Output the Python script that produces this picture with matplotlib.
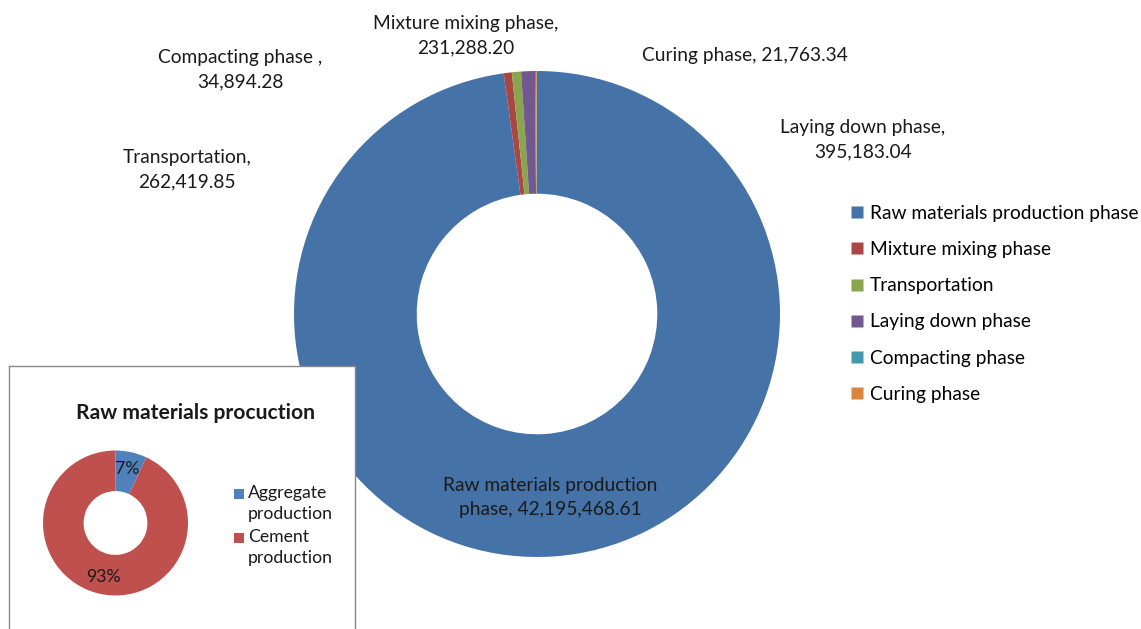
import matplotlib
matplotlib.use("Agg")
import matplotlib.pyplot as plt
from matplotlib.lines import Line2D
from matplotlib.patches import Rectangle

plt.rcParams["font.family"] = ["Lato", "DejaVu Sans"]

# main chart data
phases = ["Raw materials production phase", "Mixture mixing phase", "Transportation",
          "Laying down phase", "Compacting phase", "Curing phase"]
emissions = [42195468.61, 231288.20, 262419.85, 395183.04, 34894.28, 21763.34]
label_names = ["Raw materials production\nphase, ", "Mixture mixing phase,\n", "Transportation,\n",
               "Laying down phase,\n", "Compacting phase ,\n", "Curing phase, "]
colors = ["#4572A7", "#AA4643", "#89A54E", "#71588F", "#4198AF", "#DB843D"]

# inset data
raw_parts = ["Aggregate\nproduction", "Cement\nproduction"]
raw_share = [7, 93]
raw_colors = ["#4F81BD", "#C0504D"]

W, H = 1141, 629
fig = plt.figure(figsize=(W / 100, H / 100), dpi=100)


def px(x, y):
    return x / W, 1 - y / H


# main donut
cx, cy, r = 537, 314, 243
ax = fig.add_axes([(cx - r) / W, (H - cy - r) / H, 2 * r / W, 2 * r / H])
ax.pie(emissions, colors=colors, startangle=90, counterclock=False, radius=1,
       wedgeprops=dict(width=0.505, edgecolor="none"))
ax.set_xlim(-1, 1)
ax.set_ylim(-1, 1)
ax.set_aspect("equal")
ax.axis("off")

label_pos = [(550, 497), (466, 36), (187, 170), (863, 140), (240, 70), (745, 55)]
for name, value, (lx, ly) in zip(label_names, emissions, label_pos):
    fig.text(*px(lx, ly), f"{name}{value:,.2f}", ha="center", va="center",
             fontsize=13.8, color="#1a1a1a", linespacing=1.5)

handles = [Line2D([], [], marker="s", linestyle="none", markersize=8,
                  markerfacecolor=c, markeredgecolor="none") for c in colors]
fig.legend(handles, phases, loc="upper left", bbox_to_anchor=px(850, 205),
           frameon=False, fontsize=13.8, labelspacing=1.0, handlelength=0.7,
           handletextpad=0.35, borderaxespad=0, borderpad=0)

# inset box
box = fig.add_axes([9 / W, 0, 346 / W, (H - 366) / H], zorder=5)
box.set_facecolor("white")
box.set_xticks([])
box.set_yticks([])
for side, sp in box.spines.items():
    sp.set_color("#888888")
    sp.set_linewidth(1.0)
box.spines["bottom"].set_visible(False)

icx, icy, ir = 115.5, 523, 72.5
iax = fig.add_axes([(icx - ir) / W, (H - icy - ir) / H, 2 * ir / W, 2 * ir / H], zorder=6)
iax.pie(raw_share, colors=raw_colors, startangle=90, counterclock=False, radius=1,
        autopct="%d%%", pctdistance=0.77,
        textprops=dict(fontsize=12.7, color="#1a1a1a"),
        wedgeprops=dict(width=0.56, edgecolor="none"))
iax.set_xlim(-1, 1)
iax.set_ylim(-1, 1)
iax.set_aspect("equal")
iax.axis("off")

fig.text(*px(195, 413), "Raw materials procuction", ha="center", va="center",
         fontsize=15.2, fontweight="bold", color="#1a1a1a", zorder=7)

# inset legend: square sits beside the first line of each entry
for i, (name, c) in enumerate(zip(raw_parts, raw_colors)):
    top = 494 + i * 44
    sx, sy = px(234, top + 5)
    fig.add_artist(Rectangle((sx, sy), 10 / W, 10 / H, transform=fig.transFigure,
                             facecolor=c, edgecolor="none", zorder=8))
    fig.text(*px(248, top - 9), name, ha="left", va="top", fontsize=12.7,
             color="#1a1a1a", linespacing=1.42, zorder=8)

fig.savefig("out.png", dpi=100)
